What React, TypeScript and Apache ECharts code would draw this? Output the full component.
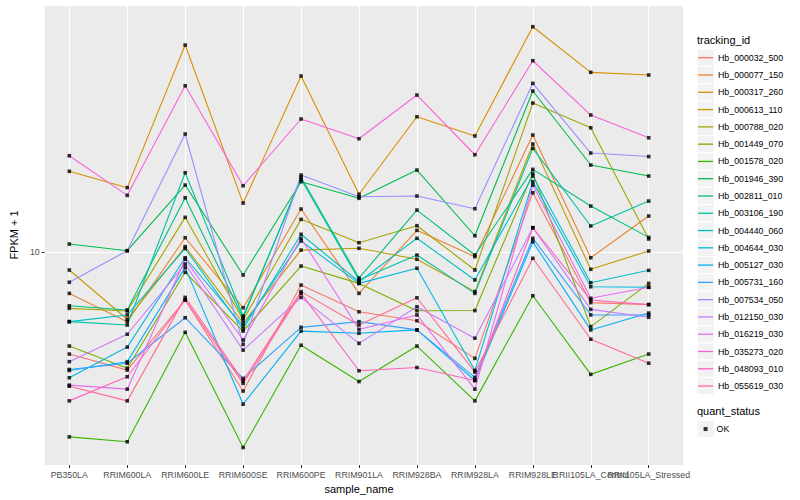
import React, { useEffect, useRef } from 'react';
import * as echarts from 'echarts';

const categories = [
  'PB350LA', 'RRIM600LA', 'RRIM600LE', 'RRIM600SE', 'RRIM600PE', 'RRIM901LA',
  'RRIM928BA', 'RRIM928LA', 'RRIM928LE', 'RRII105LA_Control', 'RRII105LA_Stressed',
];

const trackingIds = [
  'Hb_000032_500', 'Hb_000077_150', 'Hb_000317_260', 'Hb_000613_110', 'Hb_000788_020',
  'Hb_001449_070', 'Hb_001578_020', 'Hb_001946_390', 'Hb_002811_010', 'Hb_003106_190',
  'Hb_004440_060', 'Hb_004644_030', 'Hb_005127_030', 'Hb_005731_160', 'Hb_007534_050',
  'Hb_012150_030', 'Hb_016219_030', 'Hb_035273_020', 'Hb_048093_010', 'Hb_055619_030',
];

const colors = [
  '#F8766D', '#EA8331', '#D89000', '#C09B00', '#A3A500', '#7CAE00', '#39B600', '#00BB4E',
  '#00BF7D', '#00C1A3', '#00BFC4', '#00BAE0', '#00B0F6', '#35A2FF', '#9590FF', '#C77CFF',
  '#E76BF3', '#FA62DB', '#FF62BC', '#FF6C91',
];

const Hb_000032_500 = [4.57, 4.04, 6.92, 3.44, 7.76, 6.32, 5.9, 4.42, 15.77, 6.78, 6.68];
const Hb_000077_150 = [7.28, 5.86, 11.16, 6.52, 13.91, 7.28, 11.81, 9.65, 24.55, 9.57, 13.18];
const Hb_000317_260 = [18.58, 16.39, 48.98, 14.56, 38.62, 15.58, 28.25, 24.37, 56.37, 39.72, 38.9];
const Hb_000613_110 = [8.71, 5.97, 10.42, 5.8, 10.15, 10.29, 9.46, 7.38, 22.91, 8.76, 10.08];
const Hb_000788_020 = [6.49, 6.36, 13.05, 5.94, 12.85, 10.74, 12.24, 8.71, 31.38, 25.96, 11.05];
const Hb_001449_070 = [4.86, 4.1, 8.56, 5.45, 8.98, 7.86, 6.37, 6.38, 18.3, 5.64, 7.86];
const Hb_001578_020 = [2.42, 2.33, 5.4, 2.23, 4.89, 3.7, 4.86, 3.19, 7.15, 3.91, 4.57];
const Hb_001946_390 = [10.63, 10.1, 16.72, 8.38, 17.16, 15.1, 18.76, 11.33, 34.41, 19.5, 17.92];
const Hb_002811_010 = [6.62, 6.41, 15.17, 6.03, 17.74, 8.19, 13.8, 9.77, 18.86, 14.23, 11.19];
const Hb_003106_190 = [5.86, 5.71, 18.38, 6.12, 17.48, 8.07, 9.77, 7.28, 22.17, 12.21, 14.79];
const Hb_004440_060 = [5.86, 6.17, 10.27, 5.54, 11.46, 7.96, 11.11, 8.07, 17.92, 7.9, 8.69];
const Hb_004644_030 = [3.81, 4.82, 9.57, 5.67, 10.88, 7.86, 8.83, 4.03, 17.16, 7.66, 7.63];
const Hb_005127_030 = [4.03, 4.31, 8.87, 3.11, 5.45, 5.36, 5.5, 3.73, 10.82, 5.5, 6.26];
const Hb_005731_160 = [4.06, 4.26, 6.04, 3.79, 5.61, 5.86, 5.5, 3.82, 11.11, 6.17, 6.17];
const Hb_007534_050 = [7.93, 10.1, 24.74, 4.92, 18.06, 15.29, 15.37, 13.94, 36.5, 21.38, 20.81];
const Hb_012150_030 = [4.31, 5.32, 9.12, 4.71, 7.06, 4.96, 6.57, 5.16, 12.05, 6.44, 6.06];
const Hb_016219_030 = [3.6, 3.49, 9.46, 5.09, 11.11, 5.52, 6.17, 3.49, 16.72, 7.01, 7.63];
const Hb_035273_020 = [20.94, 15.45, 35.83, 16.63, 27.76, 23.86, 33.37, 21.1, 43.42, 28.62, 24.04];
const Hb_048093_010 = [3.19, 3.84, 6.92, 3.65, 7.28, 4.02, 4.12, 3.73, 12.05, 6.92, 6.68];
const Hb_055619_030 = [3.57, 3.19, 7.06, 3.72, 7.38, 5.71, 7.04, 3.98, 9.53, 5.12, 4.26];

const seriesValues = [
  Hb_000032_500, Hb_000077_150, Hb_000317_260, Hb_000613_110, Hb_000788_020,
  Hb_001449_070, Hb_001578_020, Hb_001946_390, Hb_002811_010, Hb_003106_190,
  Hb_004440_060, Hb_004644_030, Hb_005127_030, Hb_005731_160, Hb_007534_050,
  Hb_012150_030, Hb_016219_030, Hb_035273_020, Hb_048093_010, Hb_055619_030,
];

const quantStatus = ['OK'];
const yTickLabels = [10];
const yMin = 1.95;
const yMax = 66.6;

export default function App() {
  const ref = useRef<HTMLDivElement>(null);

  useEffect(() => {
    document.body.style.margin = '0';
    const chart = echarts.init(ref.current as HTMLDivElement, null, { renderer: 'svg' });
    const font = "'Liberation Sans', Arial, Helvetica, sans-serif";
    const keyH = 17.28;
    const legendTop = 49.1;

    const lineSeries = trackingIds.map((id, i) => ({
      type: 'line',
      name: id,
      xAxisIndex: 1,
      yAxisIndex: 1,
      data: seriesValues[i],
      symbol: 'none',
      silent: true,
      z: 2,
      lineStyle: { color: colors[i], width: 1.1 },
      itemStyle: { color: colors[i] },
    }));

    const points: number[][] = [];
    seriesValues.forEach((vals) => vals.forEach((v, j) => points.push([j, v])));

    const keyRects = trackingIds.map((_, i) => ({
      type: 'rect',
      shape: { x: 697, y: legendTop + keyH * i, width: keyH, height: keyH },
      style: { fill: '#F2F2F2', stroke: '#FFFFFF', lineWidth: 1 },
      z: 0,
      silent: true,
    }));

    const option: any = {
      animation: false,
      textStyle: { fontFamily: font },
      grid: [
        { left: 35, top: 5, width: 648, height: 460, show: true, backgroundColor: '#EBEBEB', borderWidth: 0 },
        { left: 69.3, right: 151.3, top: 5, height: 460, show: false },
      ],
      xAxis: [
        { type: 'value', gridIndex: 0, min: 0, max: 1, show: false },
        {
          type: 'category',
          gridIndex: 1,
          data: categories,
          boundaryGap: false,
          axisLine: { show: false },
          axisTick: { show: true, length: 3, lineStyle: { color: '#333333', width: 1 } },
          axisLabel: { interval: 0, margin: 5, fontSize: 8.8, color: '#4D4D4D', fontFamily: font },
          splitLine: { show: true, lineStyle: { color: '#FFFFFF', width: 1.1 } },
          name: 'sample_name',
          nameLocation: 'middle',
          nameGap: 17,
          nameTextStyle: { fontSize: 11, color: '#000000', fontFamily: font },
        },
      ],
      yAxis: [
        {
          type: 'log',
          logBase: 10,
          gridIndex: 0,
          min: yMin,
          max: yMax,
          axisLine: { show: false },
          axisTick: { show: true, length: 3, lineStyle: { color: '#333333', width: 1 } },
          axisLabel: {
            margin: 5,
            fontSize: 8.8,
            color: '#4D4D4D',
            fontFamily: font,
            showMinLabel: false,
            showMaxLabel: false,
            formatter: (v: number) => (yTickLabels.some((t) => Math.abs(v - t) < 1e-6) ? String(v) : ''),
          },
          splitLine: { show: true, lineStyle: { color: '#FFFFFF', width: 1.1 } },
          name: 'FPKM + 1',
          nameLocation: 'middle',
          nameGap: 16,
          nameTextStyle: { fontSize: 11, color: '#000000', fontFamily: font },
        },
        { type: 'log', logBase: 10, gridIndex: 1, min: yMin, max: yMax, show: false },
      ],
      legend: [
        {
          orient: 'vertical',
          left: 698,
          top: legendTop,
          padding: 0,
          icon: 'rect',
          itemWidth: 15,
          itemHeight: 1.3,
          itemGap: 0,
          selectedMode: false,
          data: trackingIds,
          textStyle: { fontSize: 8.8, lineHeight: keyH, height: keyH, color: '#000000', fontFamily: font },
        },
        {
          orient: 'vertical',
          left: 703.6,
          top: 420.4,
          padding: 0,
          itemWidth: 4,
          itemHeight: 4,
          selectedMode: false,
          data: quantStatus,
          textStyle: {
            fontSize: 8.8, lineHeight: keyH, height: keyH, color: '#000000', fontFamily: font, padding: [0, 0, 0, 4],
          },
        },
      ],
      graphic: [
        ...keyRects,
        {
          type: 'rect',
          shape: { x: 697, y: 420.4, width: keyH, height: keyH },
          style: { fill: '#F2F2F2', stroke: '#FFFFFF', lineWidth: 1 },
          z: 0,
          silent: true,
        },
        {
          type: 'text',
          left: 697,
          top: 34.5,
          style: { text: 'tracking_id', fontSize: 11, fill: '#000000', fontFamily: font },
          silent: true,
        },
        {
          type: 'text',
          left: 697,
          top: 405,
          style: { text: 'quant_status', fontSize: 11, fill: '#000000', fontFamily: font },
          silent: true,
        },
      ],
      series: [
        ...lineSeries,
        {
          type: 'scatter',
          name: quantStatus[0],
          xAxisIndex: 1,
          yAxisIndex: 1,
          data: points,
          symbol: 'rect',
          symbolSize: 3.6,
          silent: true,
          z: 5,
          itemStyle: { color: '#000000' },
        },
      ],
    };

    chart.setOption(option);
    return () => chart.dispose();
  }, []);

  return <div ref={ref} style={{ width: 800, height: 500 }} />;
}
